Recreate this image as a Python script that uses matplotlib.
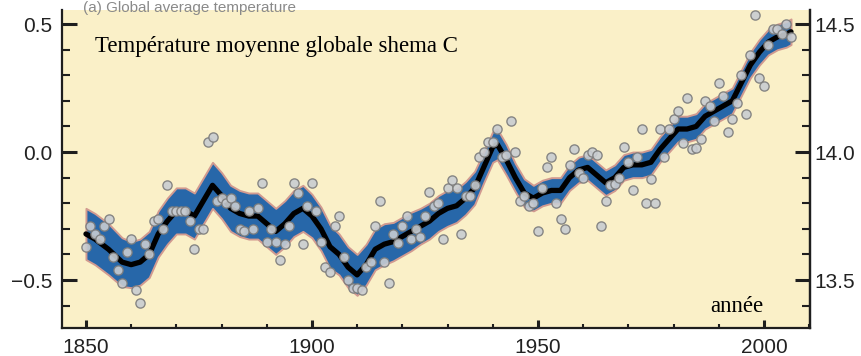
import matplotlib
matplotlib.use("Agg")
import matplotlib.pyplot as plt
from matplotlib.ticker import MultipleLocator
import numpy as np

# Annual anomalies (°C), 1850-2006
years = list(range(1850, 2007))
annual = [
    -0.37, -0.29, -0.32, -0.34, -0.29, -0.26, -0.41, -0.46, -0.51, -0.39,   # 1850s
    -0.34, -0.54, -0.59, -0.36, -0.40, -0.27, -0.26, -0.30, -0.13, -0.23,   # 1860s
    -0.23, -0.23, -0.23, -0.27, -0.38, -0.30, -0.30, 0.04, 0.06, -0.19,     # 1870s
    -0.18, -0.20, -0.18, -0.21, -0.30, -0.31, -0.23, -0.30, -0.22, -0.12,   # 1880s
    -0.35, -0.30, -0.35, -0.42, -0.36, -0.29, -0.12, -0.16, -0.36, -0.21,   # 1890s
    -0.12, -0.23, -0.35, -0.45, -0.47, -0.29, -0.25, -0.41, -0.50, -0.53,   # 1900s
    -0.53, -0.54, -0.45, -0.43, -0.29, -0.19, -0.43, -0.51, -0.32, -0.355,  # 1910s
    -0.29, -0.25, -0.34, -0.30, -0.33, -0.25, -0.155, -0.21, -0.20, -0.34,  # 1920s
    -0.14, -0.11, -0.14, -0.32, -0.17, -0.17, -0.13, -0.02, 0.00, 0.04,     # 1930s
    0.04, 0.09, -0.02, -0.01, 0.12, 0.00, -0.19, -0.17, -0.21, -0.20,       # 1940s
    -0.31, -0.14, -0.06, -0.02, -0.20, -0.26, -0.30, -0.05, 0.01, -0.08,    # 1950s
    -0.10, -0.01, 0.00, -0.01, -0.29, -0.19, -0.13, -0.125, -0.10, 0.02,    # 1960s
    -0.04, -0.15, -0.02, 0.09, -0.20, -0.105, -0.20, 0.09, -0.02, 0.09,     # 1970s
    0.13, 0.16, 0.035, 0.21, 0.01, 0.015, 0.05, 0.20, 0.18, 0.12,           # 1980s
    0.27, 0.22, 0.08, 0.13, 0.19, 0.30, 0.15, 0.38, 0.535, 0.29,            # 1990s
    0.26, 0.42, 0.48, 0.48, 0.46, 0.50, 0.45,                               # 2000s
]

# Smoothed curve and its uncertainty half-width
smooth_years = [1850, 1852, 1855, 1858, 1860, 1862, 1864, 1866, 1868, 1870,
                1872, 1874, 1876, 1878, 1880, 1882, 1884, 1886, 1888, 1890,
                1892, 1894, 1896, 1898, 1900, 1902, 1904, 1906, 1908, 1910,
                1912, 1914, 1916, 1918, 1920, 1922, 1924, 1926, 1928, 1930,
                1932, 1934, 1936, 1938, 1940, 1941, 1943, 1945, 1947, 1949,
                1951, 1953, 1955, 1957, 1959, 1961, 1963, 1965, 1967, 1969,
                1971, 1973, 1975, 1977, 1979, 1981, 1983, 1985, 1987, 1989,
                1991, 1993, 1995, 1997, 1999, 2001, 2003, 2005, 2006]
smooth_vals = [-0.32, -0.34, -0.38, -0.43, -0.44, -0.43, -0.40, -0.32, -0.27, -0.23,
               -0.23, -0.25, -0.19, -0.13, -0.17, -0.22, -0.24, -0.25, -0.25, -0.28,
               -0.31, -0.28, -0.24, -0.22, -0.25, -0.30, -0.37, -0.40, -0.45, -0.48,
               -0.44, -0.38, -0.36, -0.35, -0.33, -0.31, -0.29, -0.27, -0.24, -0.22,
               -0.21, -0.18, -0.14, -0.06, 0.02, 0.03, -0.03, -0.10, -0.16, -0.18,
               -0.16, -0.15, -0.15, -0.10, -0.07, -0.06, -0.09, -0.12, -0.10, -0.06,
               -0.05, -0.05, -0.04, 0.01, 0.05, 0.09, 0.09, 0.10, 0.14, 0.16,
               0.18, 0.20, 0.27, 0.34, 0.39, 0.43, 0.45, 0.46, 0.47]
band_half = [0.10, 0.10, 0.10, 0.095, 0.09, 0.09, 0.09, 0.09, 0.09, 0.09,
             0.09, 0.09, 0.09, 0.09, 0.09, 0.09, 0.09, 0.09, 0.09, 0.09,
             0.09, 0.09, 0.09, 0.09, 0.085, 0.085, 0.085, 0.08, 0.08, 0.08,
             0.08, 0.08, 0.08, 0.075, 0.075, 0.075, 0.07, 0.07, 0.07, 0.07,
             0.065, 0.065, 0.065, 0.06, 0.06, 0.06, 0.06, 0.055, 0.055, 0.05,
             0.05, 0.05, 0.05, 0.05, 0.05, 0.05, 0.05, 0.05, 0.05, 0.05,
             0.05, 0.05, 0.05, 0.05, 0.05, 0.05, 0.05, 0.05, 0.05, 0.05,
             0.05, 0.05, 0.05, 0.05, 0.05, 0.05, 0.05, 0.05, 0.05]

title_text = "(a) Global average temperature"
label_text = "Température moyenne globale shema C"
xlabel_text = "année"
x_ticks = [1850, 1900, 1950, 2000]
y_ticks = [-0.5, 0.0, 0.5]
offset = 14.0

BG = "#faf0c8"
BAND = "#2767a9"
SPINE = "#1e1e1e"

fig = plt.figure(figsize=(8.61, 3.56), dpi=100, facecolor="white")
ax = fig.add_axes([62 / 861, 28 / 356, (810 - 62) / 861, (328 - 10) / 356])
ax.set_facecolor(BG)

sy = np.array(smooth_years)
sv = np.array(smooth_vals)
bh = np.array(band_half)
ax.fill_between(sy, sv - bh, sv + bh, facecolor=BAND, edgecolor="#d19a90",
                linewidth=1.4, zorder=2)
ax.plot(sy, sv, color="black", lw=3.8, solid_capstyle="round",
        solid_joinstyle="round", zorder=3)
ax.scatter(years, annual, s=44, facecolor="#c9cdd2", edgecolor="#7c7c7c",
           linewidth=1.0, alpha=0.9, zorder=4)

xlim = (1844.7, 2010.2)
ylim = (-0.6875, 0.555)
ax.set_xlim(*xlim)
ax.set_ylim(*ylim)

tickfont = {"family": "Liberation Sans", "size": 15}
ax.set_xticks(x_ticks)
ax.set_yticks(y_ticks)
ax.set_xticklabels([str(t) for t in x_ticks], **tickfont, color="#222")
ax.set_yticklabels(["\u22120.5", "0.0", "0.5"], **tickfont, color="#222")
ax.xaxis.set_minor_locator(MultipleLocator(10))
ax.yaxis.set_minor_locator(MultipleLocator(0.1))
ax.tick_params(axis="y", which="major", direction="in", length=11, width=2.2,
               pad=7, color=SPINE)
ax.tick_params(axis="y", which="minor", direction="in", length=5.5, width=1.5,
               color=SPINE)
ax.tick_params(axis="x", which="major", direction="in", length=6, width=2.2,
               pad=7, color=SPINE)
ax.tick_params(axis="x", which="minor", direction="in", length=3, width=1.5,
               color=SPINE)
ax.spines["top"].set_visible(False)
for s in ("left", "bottom", "right"):
    ax.spines[s].set_linewidth(1.6)
    ax.spines[s].set_color(SPINE)

ax2 = ax.twinx()
ax2.set_ylim(ylim[0] + offset, ylim[1] + offset)
r_ticks = [offset + v for v in y_ticks]
ax2.set_yticks(r_ticks)
ax2.set_yticklabels(["%.1f" % v for v in r_ticks], **tickfont, color="#222")
ax2.yaxis.set_minor_locator(MultipleLocator(0.1))
ax2.tick_params(axis="y", which="major", direction="in", length=11, width=2.2,
                pad=3, color=SPINE)
ax2.tick_params(axis="y", which="minor", direction="in", length=5.5, width=1.5,
                color=SPINE)
for s in ("top", "left", "bottom"):
    ax2.spines[s].set_visible(False)
ax2.spines["right"].set_linewidth(1.6)
ax2.spines["right"].set_color(SPINE)

ax.text(0.044, 0.868, label_text, transform=ax.transAxes,
        family="Liberation Serif", fontsize=16.5, color="black", va="baseline",
        zorder=6)
ax.text(0.866, 0.05, xlabel_text, transform=ax.transAxes,
        family="Liberation Serif", fontsize=16.5, color="black", va="baseline",
        zorder=6)
fig.text(83 / 861, 1 - 12 / 356, title_text, family="Liberation Sans",
         fontsize=11, color="#8a8a8a", va="baseline", ha="left")

fig.savefig("out.png", dpi=100, facecolor="white")
